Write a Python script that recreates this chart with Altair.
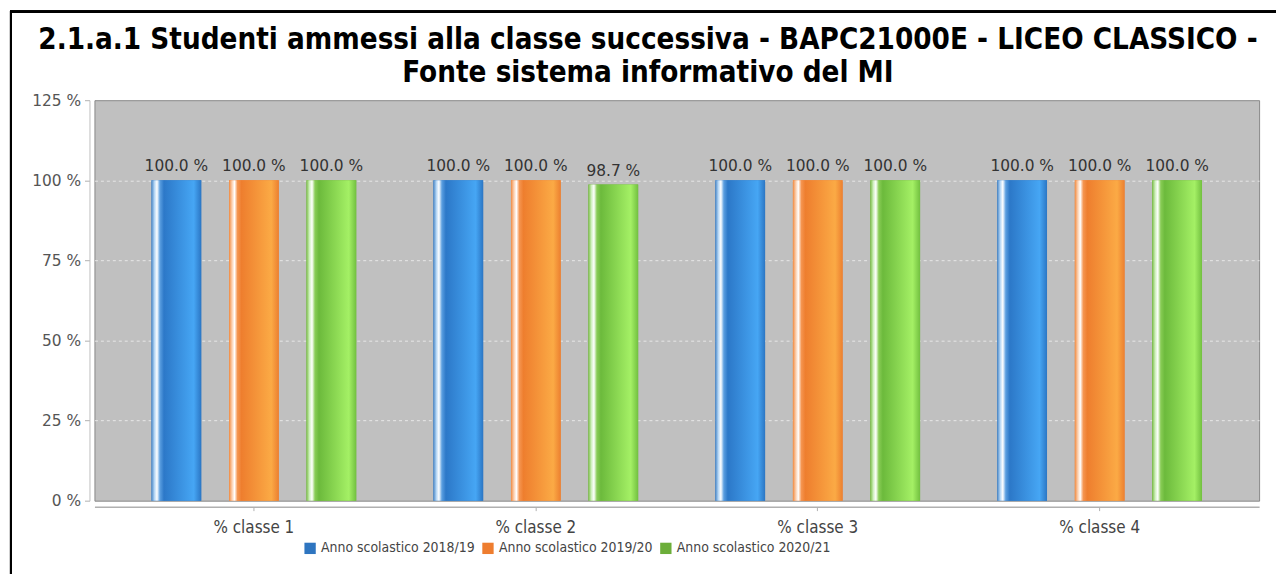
import altair as alt
import pandas as pd

categories = ["% classe 1", "% classe 2", "% classe 3", "% classe 4"]
series = ["Anno scolastico 2018/19", "Anno scolastico 2019/20", "Anno scolastico 2020/21"]
values_2018_19 = [100.0, 100.0, 100.0, 100.0]
values_2019_20 = [100.0, 100.0, 100.0, 100.0]
values_2020_21 = [100.0, 98.7, 100.0, 100.0]
y_ticks = [0, 25, 50, 75, 100, 125]

legend_colors = ["#2e75c0", "#ee7d2f", "#6cae3a"]

rows = []
for s, vals in zip(series, [values_2018_19, values_2019_20, values_2020_21]):
    for c, v in zip(categories, vals):
        rows.append({"cat": c, "series": s, "value": v})
df = pd.DataFrame(rows)


def grad(stops):
    return alt.Gradient(
        gradient="linear", x1=0, x2=1, y1=0, y2=0,
        stops=[alt.GradientStop(offset=o, color=c) for o, c in stops],
    )


gradients = [
    grad([(0.0, "#4a88c8"), (0.06, "#b8d8f5"), (0.11, "#ffffff"), (0.17, "#5a9ee0"),
          (0.25, "#2c78c8"), (0.85, "#46a6f4"), (1.0, "#2b76c4")]),
    grad([(0.0, "#f08a40"), (0.06, "#fcd0b0"), (0.11, "#ffffff"), (0.17, "#f59550"),
          (0.25, "#ee7e2e"), (0.85, "#fbaa45"), (1.0, "#ec8030")]),
    grad([(0.0, "#7cc048"), (0.06, "#d0f0c0"), (0.11, "#ffffff"), (0.17, "#88cc55"),
          (0.25, "#6cba3c"), (0.85, "#a4f065"), (1.0, "#72c040")]),
]

x_enc = alt.X(
    "cat:N", sort=categories,
    scale=alt.Scale(paddingInner=0.274, paddingOuter=0.2025),
    axis=alt.Axis(title=None, labelAngle=0, labelFont="DejaVu Sans Condensed", labelFontSize=17,
                  labelColor="#444444", domainColor="#b0b0b0", domainWidth=1.5,
                  tickColor="#b0b0b0", tickSize=4, offset=6, labelPadding=9, grid=False),
)
xo_enc = alt.XOffset("series:N", sort=series,
                     scale=alt.Scale(paddingInner=0.359, paddingOuter=0))
y_enc = alt.Y(
    "value:Q", scale=alt.Scale(domain=[0, 125], nice=False),
    axis=alt.Axis(title=None, values=y_ticks, labelExpr="datum.value + ' %'",
                  labelFont="DejaVu Sans", labelFontSize=15.5, labelColor="#555555",
                  domainColor="#c0c0c0", tickColor="#b0b0b0", tickSize=5, offset=5,
                  labelPadding=4, grid=True, gridColor="#ececec", gridDash=[3, 3],
                  gridOpacity={"condition": {"test": "datum.value == 125 || datum.value == 0",
                                             "value": 0}, "value": 0.9}),
)

base = alt.Chart(df)

legend_bars = base.mark_bar().encode(
    x=x_enc, xOffset=xo_enc, y=y_enc,
    color=alt.Color(
        "series:N", sort=series,
        scale=alt.Scale(domain=series, range=legend_colors),
        legend=alt.Legend(title=None, orient="none", direction="horizontal",
                          legendX=210, legendY=444, symbolType="square",
                          symbolSize=130, symbolStrokeWidth=0,
                          labelFont="DejaVu Sans Condensed",
                          labelFontSize=14, labelColor="#444444", columnPadding=6,
                          labelOffset=4),
    ),
)

grad_layers = []
for s, g in zip(series, gradients):
    grad_layers.append(
        base.transform_filter(alt.datum.series == s)
        .mark_bar(fill=g)
        .encode(x=x_enc, xOffset=xo_enc, y=y_enc)
    )

labels = base.transform_calculate(
    label="format(datum.value, '.1f') + ' %'"
).mark_text(dy=-14, font="DejaVu Sans", fontSize=15.5, color="#333333").encode(
    x=x_enc, xOffset=xo_enc, y=y_enc, text="label:N"
)

border_left = alt.Chart(df).mark_rule(color="#000000", strokeWidth=2).encode(
    x=alt.value(-84), y=alt.value(-89), y2=alt.value(480)
)
border_top = alt.Chart(df).mark_rule(color="#000000", strokeWidth=2).encode(
    x=alt.value(-85), x2=alt.value(1195), y=alt.value(-89)
)

chart = alt.layer(legend_bars, *grad_layers, labels, border_left, border_top).properties(
    width=1172, height=403,
    padding={"left": 87, "top": 91, "right": 17, "bottom": 72},
    autosize=alt.AutoSizeParams(type="none"),
    title=alt.Title(
        ["2.1.a.1 Studenti ammessi alla classe successiva - BAPC21000E - LICEO CLASSICO -",
         "Fonte sistema informativo del MI"],
        font="DejaVu Sans Condensed", fontSize=29.5, fontWeight="bold", color="#000000",
        lineHeight=33, offset=-107, dx=-29, anchor="middle", baseline="bottom",
    ),
).configure_view(
    fill="#c0c0c0", stroke="#888888", strokeWidth=1
)

chart.save("out.html", embed_options={"renderer": "svg", "actions": False})
